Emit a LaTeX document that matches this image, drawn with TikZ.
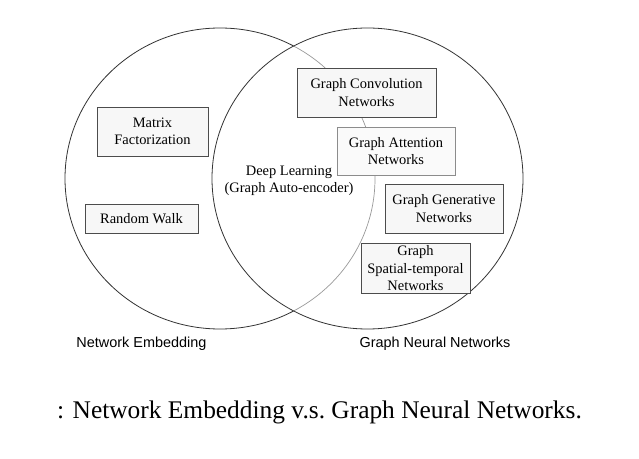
\documentclass[tikz,border=0pt]{standalone}
\usepackage{fontspec}
\newfontfamily\boxfnt{Liberation Serif}
\newfontfamily\labfnt{Liberation Sans}
\newfontfamily\capfnt{Liberation Serif}
\begin{document}
\begin{tikzpicture}[x=1bp,y=-1bp,
  ring/.style={line width=0.8bp, draw=black!80},
  ringlight/.style={line width=0.7bp, draw=black!40},
  nebox/.style={draw=black!70, line width=0.7bp, fill=black!3, inner sep=0pt, align=center,
     font=\fontsize{14.5}{17.5}\selectfont\boxfnt},
  plaintext/.style={inner sep=0pt, align=center, font=\fontsize{14.5}{17.5}\selectfont\boxfnt},
  lab/.style={inner sep=0pt, font=\fontsize{14.5}{17}\selectfont\labfnt},
  captext/.style={inner sep=0pt, anchor=west, font=\fontsize{25.5}{28}\selectfont\capfnt}]
\useasboundingbox (0,0) rectangle (639,459);
\fill[white] (0,0) rectangle (639,459);
% circles
\begin{scope}[even odd rule]
  \clip (0,0) rectangle (639,459) (367.5,178.5) ellipse [x radius=155.5, y radius=150.5];
  \draw[ring] (220,178.5) ellipse [x radius=155, y radius=150.5];
\end{scope}
\begin{scope}
  \clip (367.5,178.5) ellipse [x radius=155.5, y radius=150.5];
  \draw[ringlight] (220,178.5) ellipse [x radius=155, y radius=150.5];
\end{scope}
\draw[ring] (367.5,178.5) ellipse [x radius=155.5, y radius=150.5];
% boxes
\node[nebox, minimum width=111bp, minimum height=49bp] (mf) at (152.5,131.5) {Matrix\\Factorization};
\node[nebox, minimum width=113bp, minimum height=29bp] (rw) at (141.5,218.5) {Random Walk};
\node[plaintext] (dl) at (289,181) {Deep Learning\\(Graph Auto-encoder)};
\node[nebox, minimum width=139bp, minimum height=49bp] (gcn) at (366.5,92.5) {Graph Convolution\\Networks};
\node[nebox, draw=black!45, fill=black!2, minimum width=118bp, minimum height=48bp] (gat) at (396,151) {Graph Attention\\Networks};
\node[nebox, minimum width=118bp, minimum height=49bp] (ggn) at (444,208.5) {Graph Generative\\Networks};
\node[nebox, minimum width=109bp, minimum height=50bp, text depth=0pt] (gstn) at (415.5,268) {Graph\\Spatial-temporal\\Networks};
% labels
\node[lab] (ne) at (141.5,344) {Network Embedding};
\node[lab] (gnn) at (435,344) {Graph Neural Networks};
\node[captext] (caption) at (57,412.5) {: Network Embedding v.s.\ Graph Neural Networks.};
\end{tikzpicture}
\end{document}
